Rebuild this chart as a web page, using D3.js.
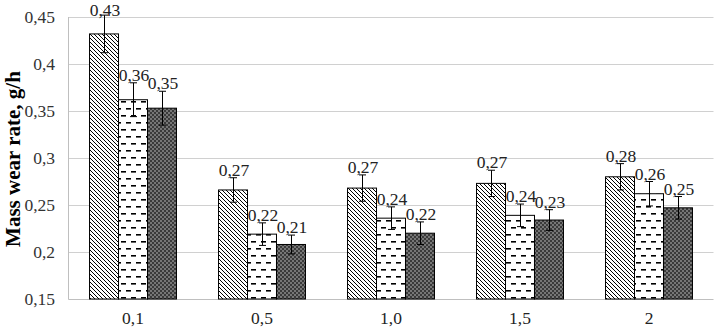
<!DOCTYPE html>
<html><head><meta charset="utf-8">
<script src="https://cdn.jsdelivr.net/npm/d3@7"></script>
<style>body{margin:0;background:#fff}svg{display:block}</style>
</head><body>
<svg id="c" width="714" height="330"></svg>
<script>
const categories = ["0,1","0,5","1,0","1,5","2"];
const seriesNames = ["s1","s2","s3"];
const series1 = [0.432,0.266,0.268,0.273,0.280];
const series2 = [0.362,0.219,0.236,0.239,0.262];
const series3 = [0.353,0.208,0.220,0.234,0.247];
const err1 = [0.020,0.013,0.014,0.014,0.014];
const err2 = [0.018,0.012,0.012,0.012,0.013];
const err3 = [0.018,0.010,0.012,0.011,0.012];
const yTicks = [0.15,0.2,0.25,0.3,0.35,0.4,0.45];
const yTickLabels = ["0,15","0,2","0,25","0,3","0,35","0,4","0,45"];
const yTitle = "Mass wear rate, g/h";

const svg = d3.select("#c");
const L = 68.5, R = 713.5, T = 17, B = 299;
const x0 = d3.scaleBand().domain(categories).range([L,R]).paddingInner(0.326).paddingOuter(0.163);
const x1 = d3.scaleBand().domain(seriesNames).range([0,x0.bandwidth()]);
const y = d3.scaleLinear().domain([0.15,0.45]).range([B,T]);

const defs = svg.append("defs");
const p1 = defs.append("pattern").attr("id","pdiag").attr("patternUnits","userSpaceOnUse").attr("width",4).attr("height",4);
p1.append("rect").attr("width",4).attr("height",4).attr("fill","#fff");
p1.append("path").attr("d","M-1,-1L5,5M-1,3L1,5M3,-1L5,1").attr("stroke","#000").attr("stroke-width",1);
const p2 = defs.append("pattern").attr("id","pdash").attr("patternUnits","userSpaceOnUse").attr("width",10).attr("height",14);
p2.append("rect").attr("width",10).attr("height",14).attr("fill","#fff");
p2.append("rect").attr("x",1).attr("y",3).attr("width",5).attr("height",1.6).attr("fill","#000");
p2.append("rect").attr("x",6).attr("y",10).attr("width",5).attr("height",1.6).attr("fill","#000");
p2.append("rect").attr("x",-4).attr("y",10).attr("width",5).attr("height",1.6).attr("fill","#000");
const p3 = defs.append("pattern").attr("id","pdot").attr("patternUnits","userSpaceOnUse").attr("width",4).attr("height",4);
p3.append("rect").attr("width",4).attr("height",4).attr("fill","#3a3a3a");
p3.append("circle").attr("cx",1).attr("cy",1).attr("r",0.75).attr("fill","#d0d0d0");
p3.append("circle").attr("cx",3).attr("cy",3).attr("r",0.75).attr("fill","#d0d0d0");
const fills = ["url(#pdiag)","url(#pdash)","url(#pdot)"];

// gridlines
svg.append("g").selectAll("line").data(yTicks.slice(1)).join("line")
  .attr("x1",L).attr("x2",R).attr("y1",d=>Math.round(y(d))+0.5).attr("y2",d=>Math.round(y(d))+0.5)
  .attr("stroke","#d0d0d0").attr("stroke-width",1);
// axes lines
svg.append("line").attr("x1",L).attr("x2",L).attr("y1",T).attr("y2",B+0.5).attr("stroke","#bfbfbf");
svg.append("line").attr("x1",L).attr("x2",R).attr("y1",Math.round(B)+0.5).attr("y2",Math.round(B)+0.5).attr("stroke","#bfbfbf");

// y tick labels
svg.append("g").selectAll("text").data(yTicks).join("text")
  .attr("x",55).attr("y",d=>y(d)).attr("dy","0.35em").attr("text-anchor","end")
  .attr("font-family","'Liberation Serif', serif").attr("font-size",17.5).attr("fill","#333")
  .text((d,i)=>yTickLabels[i]);
// x tick labels
svg.append("g").selectAll("text").data(categories).join("text")
  .attr("x",d=>x0(d)+x0.bandwidth()/2).attr("y",318).attr("dy","0.35em").attr("text-anchor","middle")
  .attr("font-family","'Liberation Serif', serif").attr("font-size",17.5).attr("fill","#222")
  .text(d=>d);
// y title
svg.append("text").attr("transform","translate(13,159) rotate(-90)").attr("text-anchor","middle").attr("dy","0.35em")
  .attr("font-family","'Liberation Serif', serif").attr("font-weight","bold").attr("font-size",21).attr("fill","#000")
  .text(yTitle);

const vals = [series1,series2,series3];
const errs = [err1,err2,err3];
const data = [];
categories.forEach((c,i)=>seriesNames.forEach((s,j)=>data.push({c,s,j,v:vals[j][i],e:errs[j][i]})));

const g = svg.append("g");
g.selectAll("rect").data(data).join("rect")
  .attr("x",d=>x0(d.c)+x1(d.s)).attr("width",x1.bandwidth())
  .attr("y",d=>y(d.v)).attr("height",d=>y(0.15)-y(d.v))
  .attr("fill",d=>fills[d.j]).attr("stroke","#000").attr("stroke-width",1);

const eb = svg.append("g").attr("stroke","#000").attr("stroke-width",1);
data.forEach(d=>{
  const cx = Math.round(x0(d.c)+x1(d.s)+x1.bandwidth()/2)+0.5;
  eb.append("line").attr("x1",cx).attr("x2",cx).attr("y1",y(d.v+d.e)).attr("y2",y(d.v-d.e));
  eb.append("line").attr("x1",cx-3.5).attr("x2",cx+3.5).attr("y1",y(d.v+d.e)).attr("y2",y(d.v+d.e));
  eb.append("line").attr("x1",cx-3.5).attr("x2",cx+3.5).attr("y1",y(d.v-d.e)).attr("y2",y(d.v-d.e));
});

svg.append("g").selectAll("text").data(data).join("text")
  .attr("x",d=>x0(d.c)+x1(d.s)+x1.bandwidth()/2+1).attr("y",d=>Math.max(16,y(d.v+d.e)-2))
  .attr("text-anchor","middle").attr("font-family","'Liberation Serif', serif").attr("font-size",17.5).attr("fill","#222")
  .text(d=>d.v.toFixed(2).replace(".",","));
</script>
</body></html>
